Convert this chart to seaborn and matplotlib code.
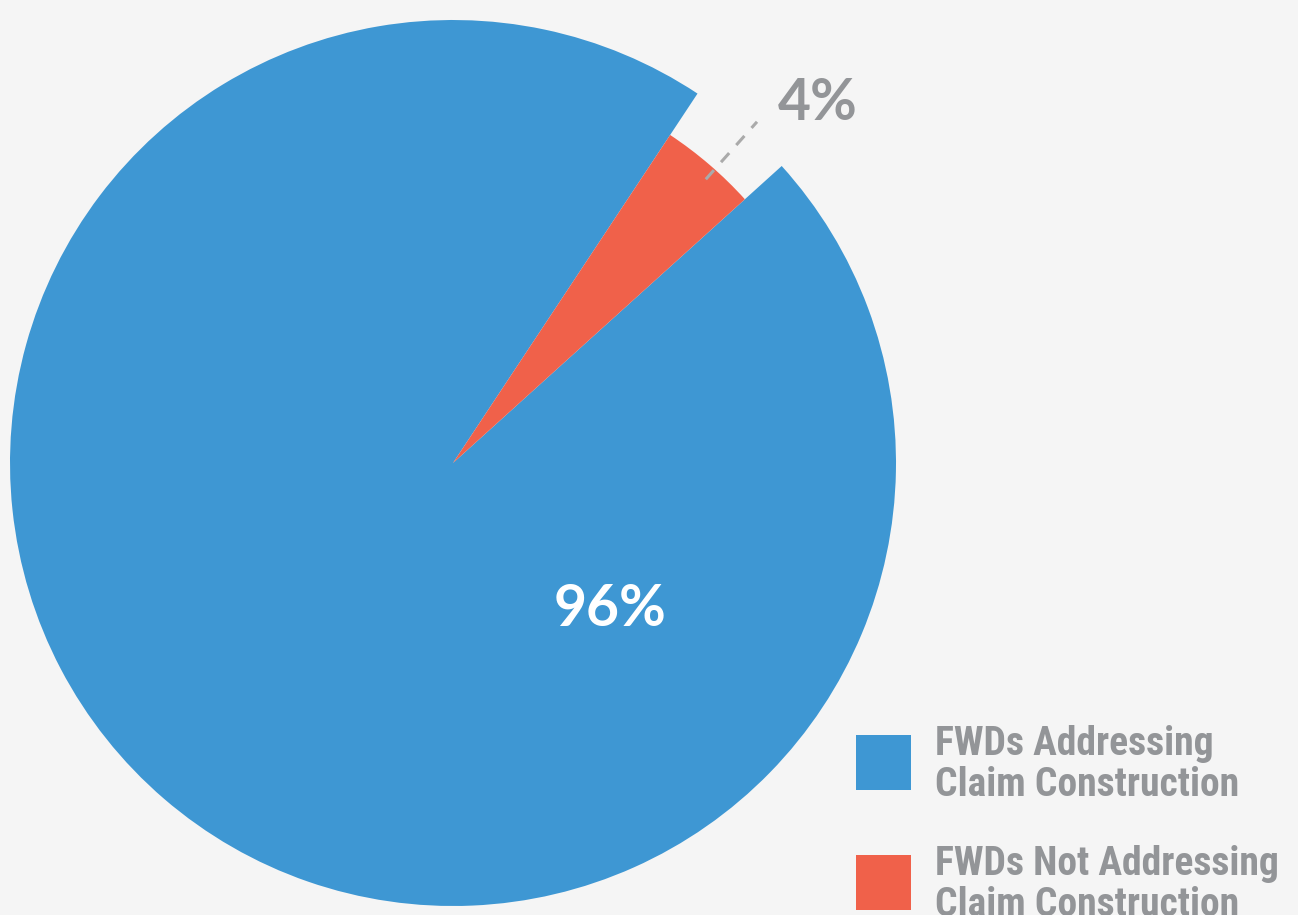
import numpy as np
import matplotlib
matplotlib.use("Agg")
import matplotlib.pyplot as plt
import seaborn as sns

labels = ["FWDs Addressing\nClaim Construction", "FWDs Not Addressing\nClaim Construction"]
values = [96, 4]
pct_text = ["96%", "4%"]
colors = ["#3e97d3", "#f0614a"]

BG = "#f5f5f5"
GRAY = "#939598"

sns.set_style("white", {"axes.facecolor": BG, "figure.facecolor": BG})

fig = plt.figure(figsize=(12.98, 9.15), dpi=100)
ax = fig.add_axes([0, 0, 1, 1])

# work in pixel-like units so layout maps 1:1
cx, cy, R = 453, 915 - 463, 443
wedges, _ = ax.pie(values, colors=colors, startangle=56.5, counterclock=True,
                   center=(cx, cy), radius=R, frame=True,
                   wedgeprops=dict(linewidth=0))
# the small slice sits a bit inside the big one
wedges[1].set_radius(R * 0.888)

ax.set_xlim(0, 1298)
ax.set_ylim(0, 915)
ax.set_aspect("equal")
ax.axis("off")

# leader line for the small slice
w = wedges[1]
mid = np.deg2rad((w.theta1 + w.theta2) / 2 - 1)
r0, r1 = 380, 457
ax.plot([cx + r0 * np.cos(mid), cx + r1 * np.cos(mid)],
        [cy + r0 * np.sin(mid), cy + r1 * np.sin(mid)],
        ls=(0, (4, 3.5)), color="#aaaaaa", lw=2.2, solid_capstyle="butt")

num_font = ["Lato", "DejaVu Sans"]
ax.text(818, 915 - 103, pct_text[1], fontsize=41, color=GRAY, ha="center",
        va="center", family=num_font, fontweight="bold")
ax.text(610, 915 - 610, pct_text[0], fontsize=41, color="white", ha="center",
        va="center", family=num_font, fontweight="bold")

# legend drawn by hand
leg_font = ["Liberation Sans Narrow", "DejaVu Sans Condensed", "Roboto Condensed", "Lato", "DejaVu Sans"]
for i, (lab, col) in enumerate(zip(labels, colors)):
    y_top = 735 + i * 120
    ax.add_patch(plt.Rectangle((856, 915 - y_top - 55), 55, 55, color=col, lw=0))
    ax.text(935, 915 - y_top + 10, lab, fontsize=28.5, color=GRAY, ha="left",
            va="top", family=leg_font, fontweight="bold", linespacing=1.1)

fig.savefig("out.png", dpi=100, facecolor=BG)
